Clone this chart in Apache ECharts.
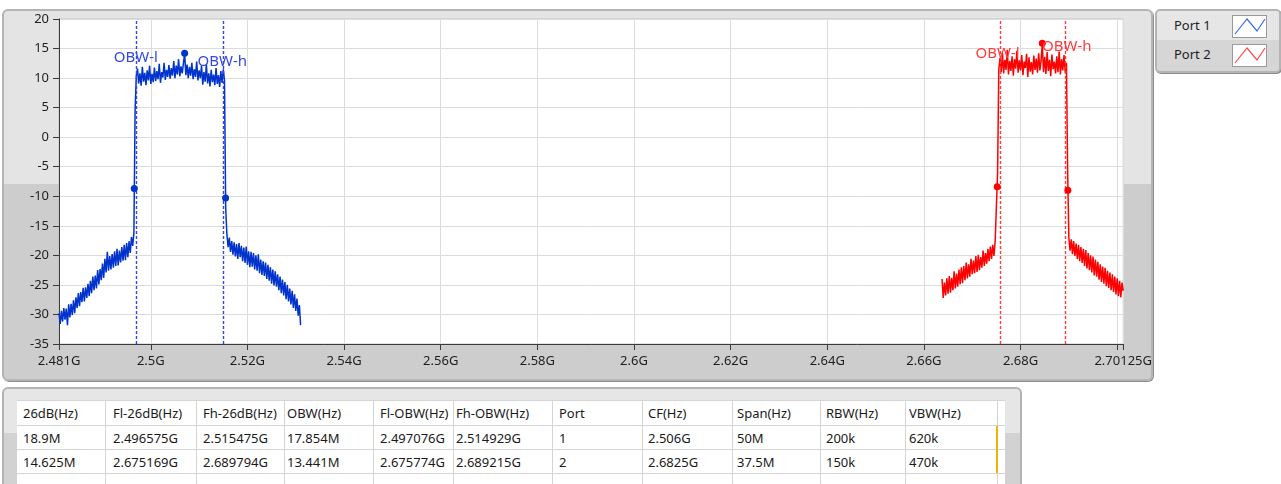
<!DOCTYPE html>
<html>
<head>
<meta charset="utf-8">
<script src="https://cdn.jsdelivr.net/npm/echarts@6/dist/echarts.min.js"></script>
<style>
  html, body { margin:0; padding:0; background:#fff; width:1281px; height:484px; overflow:hidden; font-family:"Noto Sans", "Open Sans", sans-serif; }
  #panel { position:absolute; left:2px; top:9px; width:1147px; height:368px; border:2px solid #b4b4b4; border-radius:6px;
    background:linear-gradient(to bottom, #e4e4e4 0%, #e4e4e4 47%, #cdcdcd 47%, #cdcdcd 100%); box-shadow:1px 1px 0 #8c8c8c; }
  #chart { position:absolute; left:0; top:0; width:1155px; height:386px; }
  #legend { position:absolute; left:1155px; top:9px; width:122px; height:60px; border:2px solid #b4b4b4; border-radius:5px; background:#d6d6d6; overflow:hidden; box-shadow:1px 1px 0 #8c8c8c; }
  .lrow { position:absolute; left:0; width:122px; height:29px; }
  .ltext { position:absolute; left:17px; font-size:13px; color:#1e1e1e; line-height:29px; top:0; }
  .licon { position:absolute; left:75px; top:4px; width:33px; height:21px; background:#fff; border:1px solid #9a9a9a; }
  #tframe { position:absolute; left:2px; top:387px; width:1016px; height:110px; border:2px solid #b4b4b4; border-radius:6px;
    background:linear-gradient(to bottom, #e6e6e6 0%, #e6e6e6 40%, #d2d2d2 40%, #d2d2d2 100%); }
  #table { position:absolute; left:17px; top:400px; width:988px; height:90px; background:#fff; }
  .cell { position:absolute; font-size:13px; color:#1a1a1a; white-space:nowrap; overflow:hidden; line-height:24px; }
  .vline { position:absolute; width:1px; background:#d4d4d4; }
  .hline { position:absolute; height:1px; background:#d4d4d4; left:0; width:988px; }
</style>
</head>
<body>
<div id="panel"></div>
<div id="chart"></div>
<div id="legend"></div>
<div id="tframe"></div>
<div id="table"></div>
<script>
// ---------------- data ----------------
const p1Start = 2.481, p1Step = 0.00025;
const p1Level = [
 -29.8,-31.6,-29.4,-31.2,-28.9,-30.9,-29.0,-31.8,-28.3,-30.5,
 -28.2,-30.1,-27.6,-29.8,-27.1,-28.9,-26.4,-28.6,-26.2,-27.9,
 -25.5,-27.8,-25.4,-27.2,-24.8,-26.9,-24.3,-26.4,-23.6,-25.9,
 -23.4,-25.6,-22.5,-24.9,-22.3,-24.2,-21.4,-23.8,-20.6,-22.9,
 -19.4,-22.6,-20.1,-22.4,-19.8,-22.1,-19.3,-21.8,-18.9,-21.7,
 -19.2,-21.2,-18.6,-20.9,-18.2,-20.8,-17.9,-20.3,-17.6,-19.6,
 -16.9,-18.4,-16.2,4.5,10.4,
 11.6,9.1,10.8,8.7,11.9,9.4,10.9,8.8,11.3,9.6,
 12.1,9.0,10.7,9.3,11.8,9.5,11.2,9.8,12.4,9.2,
 11.0,10.1,12.6,9.7,11.4,10.2,12.2,9.9,11.7,10.4,
 12.9,10.0,12.1,10.6,13.2,10.3,12.0,10.8,12.5,14.2,
 10.5,12.3,10.0,11.9,10.4,12.6,9.8,11.5,10.2,12.8,
 9.6,11.3,10.0,12.1,8.9,11.0,9.4,12.3,9.1,10.8,
 8.6,11.4,9.3,10.6,8.8,11.7,9.0,10.5,8.5,11.2,
 9.2,11.5,9.6,-12.0,-16.5,
 -18.6,-17.0,-19.4,-17.6,-19.9,-17.8,-20.2,-18.1,-20.6,-17.9,
 -20.3,-18.4,-21.0,-18.7,-21.3,-18.5,-21.6,-19.3,-22.0,-19.4,
 -21.9,-19.6,-22.4,-20.0,-22.6,-19.8,-23.0,-20.7,-23.3,-21.0,
 -23.5,-21.2,-24.0,-21.6,-24.3,-22.0,-24.8,-22.4,-25.1,-22.7,
 -25.3,-23.2,-25.9,-23.6,-26.4,-24.1,-26.8,-24.5,-27.4,-25.0,
 -27.8,-25.6,-28.3,-26.0,-28.9,-26.6,-29.4,-27.3,-30.2,-28.4,
 -31.8
];
const p2Start = 2.66375, p2Step = 0.00025;
const p2Level = [
 -24.0,-27.2,-24.6,-26.8,-23.9,-26.5,-23.5,-26.3,-23.8,-25.9,
 -22.7,-25.6,-23.1,-25.3,-22.4,-24.9,-22.0,-24.7,-21.8,-24.2,
 -21.2,-23.9,-21.5,-23.6,-20.6,-23.2,-20.9,-23.0,-20.1,-22.8,
 -19.9,-22.5,-20.3,-22.1,-19.2,-21.8,-19.6,-21.4,-18.9,-21.0,
 -18.5,-20.6,-18.2,-20.1,-17.6,-17.8,-6.0,11.5,
 13.4,11.0,14.3,10.8,13.1,11.4,14.8,10.6,12.9,11.2,
 13.7,10.4,13.2,11.6,14.6,10.9,13.0,11.3,13.9,10.5,
 12.8,11.7,14.1,10.2,13.5,11.1,12.7,10.6,13.8,11.4,
 13.3,10.9,14.2,11.3,12.9,15.9,11.0,13.6,10.7,14.4,
 11.2,13.1,10.3,14.0,11.5,12.8,10.8,13.7,11.0,14.5,
 10.6,13.2,11.3,13.9,10.9,12.6,-6.0,-17.0,
 -19.2,-17.3,-19.8,-17.6,-20.1,-18.0,-20.6,-18.2,-21.0,-18.6,
 -21.3,-18.9,-21.8,-19.1,-22.2,-19.6,-22.5,-20.0,-22.9,-20.2,
 -23.4,-20.7,-23.6,-21.1,-24.1,-21.5,-24.5,-21.9,-24.8,-22.1,
 -25.2,-22.6,-25.5,-22.9,-25.9,-23.2,-26.2,-23.6,-26.6,-23.9,
 -26.9,-24.3,-27.1,-24.6,-26.0
];
const p1ObwFreqs = [2.497076, 2.514929];
const p2ObwFreqs = [2.675774, 2.689215];
const p1Db26Points = [[2.496575, -8.7], [2.515475, -10.3]];
const p2Db26Points = [[2.675169, -8.4], [2.689794, -9.0]];
const p1LabelNames = ['OBW-l', 'OBW-h'];
const p1LabelAt = [[2.49234, 13.4], [2.50966, 12.7]];
const p2LabelNames = ['OBW-l', 'OBW-h'];
const p2LabelAt = [[2.67069, 14.1], [2.68444, 15.3]];
const xTickValues = [2.481, 2.5, 2.52, 2.54, 2.56, 2.58, 2.6, 2.62, 2.64, 2.66, 2.68, 2.7, 2.70125];
const xLabelValues = [2.481, 2.5, 2.52, 2.54, 2.56, 2.58, 2.6, 2.62, 2.64, 2.66, 2.68, 2.70125];
const seriesNames = ['Port 1', 'Port 2'];
const seriesColors = ['#0033cc', '#ff0000'];
const labelColors = ['#3448e0', '#ff3b3b'];

const tableHeader = ['26dB(Hz)', 'Fl-26dB(Hz)', 'Fh-26dB(Hz)', 'OBW(Hz)', 'Fl-OBW(Hz)', 'Fh-OBW(Hz)', 'Port', 'CF(Hz)', 'Span(Hz)', 'RBW(Hz)', 'VBW(Hz)'];
const tableRow1 = ['18.9M', '2.496575G', '2.515475G', '17.854M', '2.497076G', '2.514929G', '1', '2.506G', '50M', '200k', '620k'];
const tableRow2 = ['14.625M', '2.675169G', '2.689794G', '13.441M', '2.675774G', '2.689215G', '2', '2.6825G', '37.5M', '150k', '470k'];

// ---------------- layout helpers ----------------
const colEdges = [0, 88, 179, 267, 356, 436, 535, 625, 715, 803, 888, 980, 988];
const textPad = [6, 8, 7, 3, 7, 3, 7, 6, 5, 6, 4];
const rowTops = [1, 26, 50];

const tbl = document.getElementById('table');
let html = '';
[tableHeader, tableRow1, tableRow2].forEach((row, r) => {
  row.forEach((t, c) => {
    html += `<div class="cell" style="left:${colEdges[c] + textPad[c]}px;top:${rowTops[r]}px;width:${colEdges[c+1]-colEdges[c]-textPad[c]}px">${t}</div>`;
  });
});
for (let c = 1; c < colEdges.length - 1; c++) {
  html += `<div class="vline" style="left:${colEdges[c]}px;top:0;height:90px"></div>`;
}
[0, 25, 49, 73].forEach(y => { html += `<div class="hline" style="top:${y}px"></div>`; });
html += `<div style="position:absolute;left:${colEdges[11]-1}px;top:26px;width:2px;height:47px;background:#f0b400"></div>`;
tbl.innerHTML = html;

const leg = document.getElementById('legend');
const iconPts = '2,18 14,3 24,15 32,3';
leg.innerHTML = seriesNames.map((n, i) => `
  <div class="lrow" style="top:${i*29}px;background:${i===0?'#e6e6e6':'#d6d6d6'};${i===0?'border-bottom:1px solid #c4c4c4;':''}">
    <div class="ltext">${n}</div>
    <div class="licon"><svg width="33" height="21"><polyline points="${iconPts}" fill="none" stroke="${i===0?'#3a6ee8':'#ff4a4a'}" stroke-width="1.2"/></svg></div>
  </div>`).join('');

// ---------------- chart ----------------
const chart = echarts.init(document.getElementById('chart'), null, { renderer: 'canvas' });
const FONT = '"Noto Sans", "Open Sans", sans-serif';

function toPairs(start, step, levels) {
  return levels.map((v, i) => [start + i * step, v]);
}
function buildSeries(idx, start, step, levels, obw, db26, names, labelAt) {
  const color = seriesColors[idx];
  const mp = db26.map(p => ({ coord: p, symbol: 'circle', symbolSize: 7, itemStyle: { color }, label: { show: false } }));
  mp.push({ type: 'max', symbol: 'circle', symbolSize: 7, itemStyle: { color }, label: { show: false } });
  names.forEach((n, k) => {
    mp.push({ coord: labelAt[k], symbol: 'circle', symbolSize: 0, itemStyle: { color: 'rgba(0,0,0,0)' },
      label: { show: true, formatter: n, position: 'right', distance: 0, color: labelColors[idx], fontSize: 15, fontFamily: FONT } });
  });
  return {
    name: seriesNames[idx], type: 'line', data: toPairs(start, step, levels),
    showSymbol: false, symbol: 'none', sampling: null, animation: false,
    lineStyle: { color, width: 1.5 }, itemStyle: { color },
    markLine: { silent: true, symbol: 'none', animation: false, precision: 6, label: { show: false },
      lineStyle: { color: labelColors[idx], type: [3, 2], width: 1.4 },
      data: obw.map(f => ({ xAxis: f })) },
    markPoint: { silent: true, animation: false, data: mp }
  };
}

chart.setOption({
  animation: false,
  backgroundColor: 'transparent',
  grid: { left: 59, top: 19, width: 1068, height: 325, show: true, backgroundColor: '#ffffff', borderColor: '#c4c4c4', borderWidth: 1 },
  xAxis: {
    type: 'value', min: 2.481, max: 2.70125,
    axisLine: { show: true, onZero: false, lineStyle: { color: '#3a3a3a', width: 1 } },
    axisTick: { show: true, length: 6, customValues: xTickValues, lineStyle: { color: '#3a3a3a' } },
    axisLabel: { customValues: xLabelValues, color: '#1e1e1e', fontSize: 13, fontFamily: FONT, margin: 11,
      formatter: v => (+v.toFixed(5)) + 'G' },
    splitLine: { show: true, lineStyle: { color: '#dcdcdc', width: 1 } }
  },
  yAxis: {
    type: 'value', min: -35, max: 20, interval: 5,
    axisLine: { show: true, onZero: false, lineStyle: { color: '#3a3a3a', width: 1 } },
    axisTick: { show: true, length: 6, lineStyle: { color: '#3a3a3a' } },
    axisLabel: { color: '#1e1e1e', fontSize: 13, fontFamily: FONT, margin: 10 },
    splitLine: { show: true, lineStyle: { color: '#dcdcdc', width: 1 } }
  },
  series: [
    buildSeries(0, p1Start, p1Step, p1Level, p1ObwFreqs, p1Db26Points, p1LabelNames, p1LabelAt),
    buildSeries(1, p2Start, p2Step, p2Level, p2ObwFreqs, p2Db26Points, p2LabelNames, p2LabelAt)
  ]
});
</script>
</body>
</html>
